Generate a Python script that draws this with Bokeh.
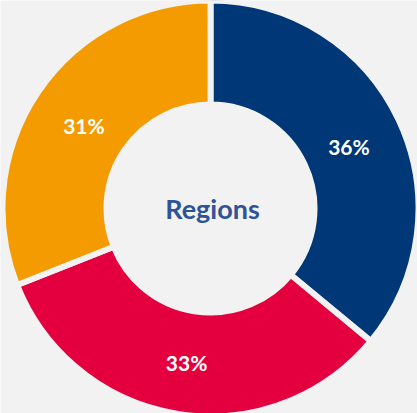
import math
from bokeh.plotting import figure
from bokeh.models import ColumnDataSource, Range1d
from bokeh.core.properties import value
from bokeh.embed import file_html
from bokeh.resources import INLINE

regions = ["Region A", "Region B", "Region C"]
shares = [36, 33, 31]
labels = ["36%", "33%", "31%"]
colors = ["#003777", "#E4003F", "#F39B00"]
center_title = "Regions"

BG = "#F2F2F2"
W, H = 417, 413
cx, cy = 210, 205
r_in, r_out = 104, 208
r_lab = 153

total = float(sum(shares))
starts, ends, lx, ly = [], [], [], []
cum = 0.0
for s in shares:
    a0 = math.pi / 2 - 2 * math.pi * (cum + s) / total
    a1 = math.pi / 2 - 2 * math.pi * cum / total
    starts.append(a0)
    ends.append(a1)
    mid = (a0 + a1) / 2
    lx.append(cx + r_lab * math.cos(mid))
    ly.append(cy + r_lab * math.sin(mid))
    cum += s

src = ColumnDataSource(dict(region=regions, share=shares, label=labels, color=colors,
                            start=starts, end=ends, lx=lx, ly=ly))

p = figure(width=W, height=H, output_backend="svg", toolbar_location=None,
           x_range=Range1d(0, W), y_range=Range1d(0, H), min_border=0)
p.axis.visible = False
p.grid.visible = False
p.outline_line_color = None
p.background_fill_color = BG
p.border_fill_color = BG

p.annular_wedge(x=cx, y=cy, inner_radius=r_in, outer_radius=r_out,
                start_angle="start", end_angle="end", fill_color="color",
                line_color=BG, line_width=6, source=src)

p.text(x="lx", y="ly", text="label", source=src, text_color="white",
       text_font=value("Lato"), text_font_style="bold", text_font_size="21px",
       text_align="center", text_baseline="middle", y_offset=3)

p.text(x=[cx + 2], y=[cy], text=[center_title], text_color="#2F5496",
       text_font=value("Lato"), text_font_style="bold", text_font_size="27px",
       text_align="center", text_baseline="middle")

open("out.html", "w").write(file_html(p, INLINE))
